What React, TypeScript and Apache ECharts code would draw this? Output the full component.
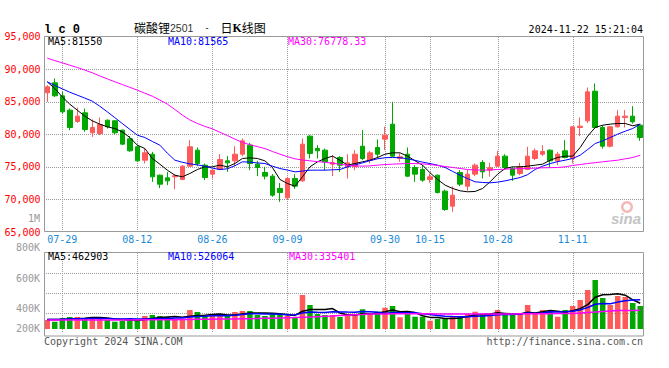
import React, { useEffect, useRef } from 'react';
import * as echarts from 'echarts';

const dates = ['07-25','07-26','07-29','07-30','07-31','08-01','08-02','08-05','08-06','08-07','08-08','08-09','08-12','08-13','08-14','08-15','08-16','08-19','08-20','08-21','08-22','08-23','08-26','08-27','08-28','08-29','08-30','09-02','09-03','09-04','09-05','09-06','09-09','09-10','09-11','09-12','09-13','09-18','09-19','09-20','09-23','09-24','09-25','09-26','09-27','09-30','10-08','10-09','10-10','10-11','10-14','10-15','10-16','10-17','10-18','10-21','10-22','10-23','10-24','10-25','10-28','10-29','10-30','10-31','11-01','11-04','11-05','11-06','11-07','11-08','11-11','11-12','11-13','11-14','11-15','11-18','11-19','11-20','11-21','11-22'];
const labelDates = ['07-29','08-12','08-26','09-09','09-30','10-15','10-28','11-11'];

const opens = [86360,87890,85900,83700,81960,83290,80220,80120,82160,82060,80630,79300,78070,76020,76940,73720,73310,73470,73060,75100,77560,75260,73880,74590,75920,75920,76940,78330,75410,74130,73570,71680,70240,73210,72850,79710,77810,77560,75410,76430,75000,75000,78170,76020,77970,79250,81550,76280,76940,74900,74590,73060,73720,71270,68960,74130,72030,73880,75670,74490,75100,76640,74750,73980,74590,76280,76940,77560,75920,77460,76280,81040,82060,86610,81040,78170,81140,82570,82780,81390];
const closes = [87280,85900,83440,81040,82780,80730,81040,81500,81140,80220,78480,77460,75920,77150,73470,72340,72850,73620,75100,78070,75510,73360,74490,76130,75610,76940,78990,75510,74900,73570,70650,71060,73210,72030,78480,77050,77460,75770,75670,75260,75610,76940,76280,77150,76940,79860,76640,76530,73570,73880,72960,73470,71060,68450,70650,72340,73880,75260,74230,74850,76640,74900,73720,75000,76640,77460,77350,75920,76940,76430,81140,81240,86510,81040,78170,81140,82780,82780,81910,79500];
const lows = [84980,85740,83180,80630,81730,80370,79600,79860,80880,80010,78330,77300,75770,75510,72700,71730,72190,71570,72960,75000,75100,72960,73210,74490,74230,75100,76640,74490,73570,73060,70400,69630,69990,71630,72700,76280,76280,74490,73570,74230,73210,74490,76020,75510,76280,77560,76530,75770,73470,72700,72700,72550,70910,68250,68100,72030,71320,73570,73210,73470,75000,74590,72850,73720,74490,76020,76640,74900,75260,76280,75510,79710,81730,80880,77810,77970,81040,81040,81650,78990];
const highs = [87530,88560,86510,83950,84100,83950,82260,82570,82260,82160,80730,79710,78330,77810,77300,73800,74230,73880,75260,79090,77970,75510,74590,76940,76640,78170,79350,78680,75920,75000,73880,72550,73470,73880,79350,79860,78330,77810,76790,76640,76940,77560,80630,77460,79200,81140,84980,77050,77970,75260,75260,73980,73800,71520,72030,74490,74490,75510,76020,75610,77460,76940,75000,75610,78070,77810,78330,77660,77300,79090,81240,82570,87170,87790,81390,81240,83700,83700,84310,81550];

const ma5 = [88040,87020,85740,84620,83700,82780,82060,81550,81140,80880,80370,79500,78330,77810,76280,75410,74490,73720,73470,73980,74590,75000,75000,75260,75000,75510,76280,76380,76280,75920,74900,73060,72440,72030,73470,75000,75770,76280,76640,76020,75260,75510,75770,76020,76430,76940,77150,77150,76640,75920,75260,74080,73060,72190,71680,71320,71170,71220,71680,72700,73880,74750,75000,75000,75100,75260,75410,76020,76430,76640,76640,77970,79710,81040,81390,81550,81650,81650,81300,81550];
const ma10 = [88040,87500,86970,86450,86000,85550,85080,84300,83440,82550,81650,80750,79860,79500,78900,78330,77100,76020,75700,75460,75300,75100,74800,74590,74700,75170,75770,75720,75600,75510,75100,74740,74500,74230,74350,74490,74490,74490,74540,74590,75000,75300,75610,75950,76230,76400,76430,76400,76230,76000,75720,75500,75260,74900,74300,73720,73200,72700,72600,72550,72650,72850,73100,73360,73800,74600,75100,75500,75800,76020,76280,76790,77660,78580,78990,79500,80010,80470,80880,81565];
const ma30 = [91680,91300,90960,90600,90240,89850,89430,88950,88500,88050,87630,87200,86770,86300,85840,85250,84620,83800,82930,82200,81650,81200,80830,80300,79800,79250,78730,78400,78100,77810,77350,76940,76550,76230,76050,75920,75800,75700,75550,75400,75250,75150,75100,75150,75260,75350,75410,75460,75510,75500,75460,75350,75210,75050,74900,74750,74590,74530,74490,74530,74590,74640,74690,74720,74750,74800,74850,74870,74900,75000,75210,75350,75510,75640,75770,75900,76020,76230,76430,76778.33];

const volumes = [162000,131000,198000,216000,216000,198000,216000,198000,162000,131000,144000,180000,144000,234000,252000,234000,216000,180000,180000,342000,306000,234000,234000,252000,234000,306000,324000,324000,252000,234000,288000,270000,234000,198000,612000,432000,270000,252000,252000,216000,270000,252000,355000,252000,311000,383000,414000,211000,270000,221000,221000,149000,180000,180000,216000,234000,270000,311000,270000,270000,342000,252000,252000,283000,432000,270000,342000,342000,221000,342000,414000,522000,702000,882000,558000,432000,594000,576000,468000,414000];
const volMa5 = [171000,171000,171000,180000,185000,193000,209000,209000,198000,180000,171000,162000,153000,171000,191000,209000,216000,223000,212000,230000,245000,248000,259000,270000,252000,252000,270000,288000,288000,288000,284000,274000,256000,245000,320000,349000,349000,353000,367000,288000,252000,252000,274000,270000,288000,310000,342000,310000,313000,295000,238000,209000,205000,187000,187000,198000,227000,252000,263000,270000,292000,281000,270000,270000,302000,288000,310000,335000,320000,302000,331000,367000,439000,572000,616000,619000,634000,608000,526000,462903];
const volMa10 = [171000,173000,176000,180000,184000,185000,189000,191000,187000,184000,182000,185000,180000,182000,185000,191000,191000,196000,196000,218000,225000,230000,238000,245000,239000,247000,259000,274000,274000,272000,270000,266000,257000,254000,286000,308000,302000,299000,310000,308000,304000,302000,313000,311000,302000,281000,299000,292000,292000,293000,274000,263000,243000,229000,223000,221000,220000,229000,234000,241000,257000,263000,261000,272000,286000,277000,286000,310000,304000,311000,320000,344000,387000,445000,457000,455000,484000,508000,520000,526064];
const volMa30 = [162000,162000,162000,163000,163000,163000,162000,162000,162000,162000,162000,163000,164000,165000,166000,166000,167000,168000,170000,172000,174000,176000,177000,178000,179000,180000,183000,186000,189000,192000,195000,199000,203000,207000,212000,216000,222000,228000,234000,241000,248000,255000,262000,270000,271000,272000,273000,273000,274000,274000,274000,273000,272000,271000,270000,270000,270000,270000,270000,270000,270000,271000,272000,273000,273000,274000,275000,276000,278000,279000,281000,289000,298000,306000,315000,324000,333000,334000,335000,335401];

const priceGridLines = [70000, 75000, 80000, 85000, 90000];
const volGridLines = [293400, 653400, 1013400];
const volTickLabels = ['800K', '600K', '400K', '200K'];
const maTexts = ['MA5:81550', 'MA10:81565', 'MA30:76778.33'];
const volMaTexts = ['MA5:462903', 'MA10:526064', 'MA30:335401'];

const RED = '#ff5a5a';
const GREEN = '#00a800';
const GRIDC = '#9a9a9a';
const BORDER = '#999999';
const XCOL = '#1a8ad8';
const MONO = "'DejaVu Sans Mono', monospace";

const G0 = { left: 43.5, top: 36.5, width: 600.5, height: 195.5 };
const G1 = { left: 43.5, top: 252.7, width: 600.5, height: 80 };

const isLabel = (i: number) => labelDates.indexOf(dates[i]) >= 0;

function txt(text: string, x: number, y: number, fill: string, align = 'left', font = `10px ${MONO}`) {
  return { type: 'text', x, y, z: 20, style: { text, fill, font, textAlign: align, textVerticalAlign: 'middle' } };
}

function baseGraphics(): any[] {
  return [
    { type: 'rect', z: 15, shape: { x: 44.5, y: 36.5, width: 599, height: 195 }, style: { fill: 'none', stroke: BORDER, lineWidth: 1 } },
    { type: 'rect', z: 15, shape: { x: 44.5, y: 252.5, width: 599, height: 83.5 }, style: { fill: 'none', stroke: BORDER, lineWidth: 1 } },
    txt('l c 0', 44, 29.5, '#000000', 'left', `bold 12px 'Liberation Mono', monospace`),
    {
      type: 'text', x: 134, y: 27.5, z: 20,
      style: {
        text: '{cn|碳酸锂}{num|2501}{sp|  -  }{cn|日}{k|K}{cn|线图}',
        textVerticalAlign: 'middle',
        rich: {
          cn: { fontSize: 12, fontFamily: "'Noto Sans CJK SC'", fill: '#000' },
          num: { fontSize: 10.5, fontFamily: "'Liberation Sans'", fill: '#333' },
          sp: { fontSize: 9, fontFamily: MONO, fill: '#000' },
          k: { fontSize: 12, fontFamily: "'Liberation Serif'", fontWeight: 'bold', fill: '#000' },
        },
      },
    },
    txt('2024-11-22 15:21:04', 643, 29.5, '#000000', 'right'),
    txt(maTexts[0], 48, 41, '#000000'),
    txt(maTexts[1], 168, 41, '#0000ff'),
    txt(maTexts[2], 288, 41, '#ff00ff'),
    txt(volMaTexts[0], 48, 256.5, '#000000'),
    txt(volMaTexts[1], 168, 256.5, '#0000ff'),
    txt(volMaTexts[2], 289, 256.5, '#ff00ff'),
    txt('1M', 40, 218.5, '#999999', 'right'),
    txt(volTickLabels[0], 40, 247.5, '#999999', 'right'),
    txt(volTickLabels[1], 40, 278.5, '#999999', 'right'),
    txt(volTickLabels[2], 40, 308.5, '#999999', 'right'),
    txt(volTickLabels[3], 40, 328.5, '#999999', 'right'),
    txt('Copyright 2024 SINA.COM', 44, 341.5, '#555555'),
    txt('http://finance.sina.com.cn', 643, 341.5, '#555555', 'right'),
    { type: 'ring', z: 12, shape: { cx: 627, cy: 207, r: 6, r0: 3.5 }, style: { fill: '#f3b9b9' } },
    txt('sina', 611, 218, '#c4c4c4', 'left', `italic bold 15px 'Liberation Sans', sans-serif`),
  ];
}

function buildOption() {
  const candles = dates.map((_, i) => [opens[i], closes[i], lows[i], highs[i]]);
  const volBars = volumes.map((v, i) => ({ value: v, itemStyle: { color: closes[i] >= opens[i] ? RED : GREEN } }));
  const lineS = (name: string, data: number[], color: string, xi: number, w: number) => ({
    name, type: 'line', xAxisIndex: xi, yAxisIndex: xi, data, symbol: 'none', silent: true,
    lineStyle: { color, width: w }, z: 7,
  });
  return {
    animation: false,
    grid: [G0, G1],
    xAxis: [
      {
        type: 'category', gridIndex: 0, data: dates, boundaryGap: true,
        axisLine: { show: false }, axisTick: { show: false },
        axisLabel: { interval: (i: number) => isLabel(i), color: XCOL, fontFamily: MONO, fontSize: 10, margin: 2 },
        splitLine: { show: false },
      },
      {
        type: 'category', gridIndex: 1, data: dates, boundaryGap: true,
        axisLine: { show: false }, axisTick: { show: false }, axisLabel: { show: false },
        splitLine: { show: false },
      },
    ],
    yAxis: [
      {
        type: 'value', gridIndex: 0, min: 65000, max: 95000, interval: 5000,
        axisLine: { show: false }, axisTick: { show: false },
        axisLabel: { color: '#ff0000', fontFamily: MONO, fontSize: 10, margin: 3 },
        splitLine: { show: false },
      },
      {
        type: 'value', gridIndex: 1, min: -66600, max: 1373400, interval: 360000,
        axisLine: { show: false }, axisTick: { show: false }, axisLabel: { show: false },
        splitLine: { show: false },
      },
    ],
    series: [
      {
        type: 'candlestick', xAxisIndex: 0, yAxisIndex: 0, data: candles, barWidth: 5,
        itemStyle: { color: RED, color0: GREEN, borderColor: RED, borderColor0: GREEN, borderWidth: 1 },
        z: 5,
      },
      lineS('MA5', ma5, '#000000', 0, 1),
      lineS('MA10', ma10, '#0000ff', 0, 1),
      lineS('MA30', ma30, '#ff00ff', 0, 1),
      { type: 'bar', xAxisIndex: 1, yAxisIndex: 1, data: volBars, barWidth: 5.5, z: 5 },
      lineS('VMA5', volMa5, '#000000', 1, 1.5),
      lineS('VMA10', volMa10, '#0000ff', 1, 1.5),
      lineS('VMA30', volMa30, '#ff00ff', 1, 1.5),
    ],
    graphic: baseGraphics(),
  };
}

// dotted grid lines, placed with the library's own scales (convertToPixel)
function gridDots(chart: any): any[] {
  const out: any[] = [];
  const dot = (x: number, y: number) => ({ type: 'rect', z: 4, silent: true, shape: { x, y, width: 1, height: 1 }, style: { fill: GRIDC } });
  const grids = [
    { g: G0, ax: 0, h: priceGridLines },
    { g: G1, ax: 1, h: volGridLines },
  ];
  grids.forEach(({ g, ax, h }) => {
    const top = Math.ceil(g.top);
    const bottom = g.top + g.height;
    const left = Math.ceil(g.left);
    const right = g.left + g.width;
    labelDates.forEach((d) => {
      const px = chart.convertToPixel({ xAxisIndex: ax }, d);
      if (typeof px !== 'number' || isNaN(px)) return;
      const x = Math.round(px);
      for (let y = top; y < bottom; y += 2) out.push(dot(x, y));
    });
    h.forEach((v) => {
      const py = chart.convertToPixel({ yAxisIndex: ax }, v);
      if (typeof py !== 'number' || isNaN(py)) return;
      const y = Math.round(py);
      for (let x = left; x < right; x += 2) out.push(dot(x, y));
    });
  });
  return out;
}

export default function App() {
  const ref = useRef<HTMLDivElement>(null);
  useEffect(() => {
    document.body.style.margin = '0';
    const chart = echarts.init(ref.current as HTMLDivElement, null, { renderer: 'svg' });
    chart.setOption(buildOption() as any);
    try {
      const dots = gridDots(chart);
      chart.setOption({ graphic: [...baseGraphics(), ...dots] } as any);
    } catch (e) {
      // keep chart without grid dots
    }
    return () => chart.dispose();
  }, []);
  return <div ref={ref} style={{ width: 669, height: 368 }} />;
}
